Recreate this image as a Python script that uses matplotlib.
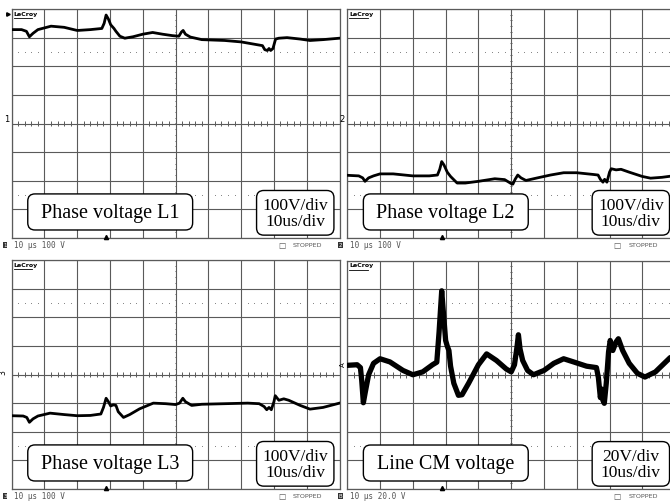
import numpy as np
import matplotlib.pyplot as plt
from matplotlib.patches import FancyBboxPatch

# Figur in Pixel 670 x 502
W, H = 670, 502

l1_t = [0, 3, 4.5, 5.4, 6.5, 8, 12, 16, 20, 24, 27.5, 28.2, 28.8, 29.5, 30.2, 31.2,
        31.8, 33, 34.5, 37, 40, 43, 46, 49, 51, 51.8, 52.3, 53, 54.5, 58, 65, 70,
        75, 76.5, 77.2, 78, 78.5, 79, 79.7, 80.5, 81.5, 84, 88, 91, 95, 100]
l1_v = [328, 328, 322, 303, 315, 328, 340, 336, 325, 328, 332, 350, 379, 365, 345, 332,
        322, 305, 298, 303, 312, 318, 312, 307, 305, 320, 325, 312, 302, 293, 290, 285,
        275, 272, 258, 255, 262, 255, 262, 295, 298, 300, 295, 290, 293, 298]

l2_t = [0, 3.5, 4.7, 5.4, 6.5, 8, 10, 14, 20, 25, 27.5, 28.2, 28.8, 29.5, 30.5, 31.5,
        33.5, 36, 40, 45, 48, 50, 50.5, 51.2, 52, 53, 54.5, 58, 62, 66, 70, 75,
        76.5, 77.2, 78, 78.5, 79.2, 80, 80.5, 82, 83.5, 86, 90, 92.5, 96, 100]
l2_v = [-181, -183, -190, -202, -190, -183, -176, -176, -183, -183, -180, -160, -133, -145, -170, -185,
        -208, -208, -202, -193, -196, -210, -212, -195, -180, -190, -199, -190, -180, -172, -172, -178,
        -180, -195, -205, -195, -205, -170, -158, -162, -160, -170, -185, -191, -188, -182]

l3_t = [0, 3.5, 4.6, 5.4, 6.5, 8, 11.7, 16, 20, 24, 27.2, 28, 28.8, 29.5, 30.2, 31,
        31.8, 32.5, 34.1, 36, 39, 43.2, 47, 50, 51.2, 52.2, 53, 54.9, 58, 65, 72, 75.5,
        77, 77.8, 78.5, 79.2, 80, 80.4, 81.5, 83, 84.5, 88, 91, 95, 100]
l3_v = [-144, -145, -150, -167, -155, -145, -135, -140, -144, -143, -138, -115, -83, -95, -110, -106,
        -108, -130, -150, -140, -120, -100, -102, -105, -100, -83, -95, -108, -104, -102, -100, -102,
        -112, -123, -115, -123, -95, -74, -90, -85, -90, -108, -121, -115, -100]

cm_t = [0, 3, 4, 4.4, 4.9, 5.5, 6.5, 8, 10, 13, 17, 20, 23, 26, 27.3, 28,
        28.8, 29.3, 30, 30.5, 31, 31.5, 32.5, 33.9, 35, 37, 40, 42.5, 45.5, 48.5, 50, 51,
        51.8, 52.2, 52.7, 53.5, 55, 56.8, 60, 63, 66, 69, 73, 76, 76.6, 77.2, 77.6, 78,
        78.4, 79, 79.7, 80.2, 81, 82, 82.7, 84, 86, 88.5, 90.8, 94, 98.5, 100]
cm_v = [6.6, 7, 5, -4, -19.6, -12, 0, 8, 11.2, 9, 3, 0, 2, 7, 8.8, 30,
        58.8, 44, 24, 20, 17, 6, -6, -14.4, -14, -6, 7, 14.6, 10, 4, 2, 7,
        20, 28, 18, 10, 3, 0, 3, 8, 11.2, 9, 6, 5, -2, -16, -10, -18,
        -20, -6, 16, 24, 17, 23, 25.2, 17, 8, 1, -1.6, 2, 12, 13]

panels = [
    dict(t=l1_t, v=l1_v, vdiv=100, lw=2.0, ch="1", name="Phase voltage L1",
         scale="100V/div\n10us/div", foot="10 \u03bcs 100 V", px=(11.7, 10, 239)),
    dict(t=l2_t, v=l2_v, vdiv=100, lw=2.0, ch="2", name="Phase voltage L2",
         scale="100V/div\n10us/div", foot="10 \u03bcs 100 V", px=(347.3, 10, 239)),
    dict(t=l3_t, v=l3_v, vdiv=100, lw=2.0, ch="3", name="Phase voltage L3",
         scale="100V/div\n10us/div", foot="10 \u03bcs 100 V", px=(11.7, 261, 490)),
    dict(t=cm_t, v=cm_v, vdiv=20, lw=3.8, ch="A", name="Line CM voltage",
         scale="20V/div\n10us/div", foot="10 \u03bcs 20.0 V", px=(347.3, 261.5, 490)),
]

tdiv = 10
grid_col = "#5a5a5a"
serif = "Liberation Serif"
mono = "DejaVu Sans Mono"

fig = plt.figure(figsize=(W / 100, H / 100), dpi=100)

for k, p in enumerate(panels):
    left, top, bot = p["px"]
    ax = fig.add_axes([left / W, 1 - bot / H, 327.8 / W, (bot - top) / H])
    vd = p["vdiv"]
    ax.set_xlim(0, 10 * tdiv)
    ax.set_ylim(-4 * vd, 4 * vd)
    ax.set_xticks(np.arange(0, 10 * tdiv + 1, tdiv))
    ax.set_yticks(np.arange(-4 * vd, 4 * vd + 1, vd))
    ax.tick_params(length=0, labelbottom=False, labelleft=False)
    ax.grid(True, color=grid_col, lw=0.8)
    for s in ax.spines.values():
        s.set_color(grid_col)
        s.set_linewidth(0.9)

    # mittellinien mit feinen strichen
    xs = np.arange(0.2, 10, 0.2) * tdiv
    ax.vlines(xs, -0.1 * vd, 0.1 * vd, color=grid_col, lw=0.7)
    ys = np.arange(-3.8, 4, 0.2) * vd
    ax.hlines(ys, 5 * tdiv - 0.25, 5 * tdiv + 0.25, color=grid_col, lw=0.7)

    # gepunktete linien bei +-2.5 div
    xd = np.array([x for x in np.arange(0.2, 10, 0.2) if abs(x - round(x)) > 0.05]) * tdiv
    for yy in (2.5, -2.5):
        ax.plot(xd, np.full(len(xd), yy * vd), ls="none", marker="s", ms=0.7,
                color="#888888", mew=0)

    # messkurve
    ax.plot(p["t"], p["v"], color="black", lw=p["lw"], solid_joinstyle="round", zorder=3)

    # textboxen
    ax.add_patch(FancyBboxPatch((0.49 * tdiv, -3.72 * vd), 5.03 * tdiv, 1.26 * vd,
                                boxstyle="round,pad=0,rounding_size=2.2",
                                mutation_aspect=vd / tdiv * 1.15,
                                fc="white", ec="black", lw=1.0, zorder=5))
    ax.text(3.0 * tdiv, -3.1 * vd, p["name"], ha="center", va="center",
            fontsize=14.5, family=serif, zorder=6)
    ax.add_patch(FancyBboxPatch((7.47 * tdiv, -3.9 * vd), 2.36 * tdiv, 1.56 * vd,
                                boxstyle="round,pad=0,rounding_size=2.2",
                                mutation_aspect=vd / tdiv * 1.15,
                                fc="white", ec="black", lw=1.0, zorder=5))
    ax.text(8.65 * tdiv, -3.12 * vd, p["scale"], ha="center", va="center",
            fontsize=12.5, family=serif, linespacing=1.0, zorder=6)

    # logo
    ax.text(0.06 * tdiv, 3.93 * vd, "LeCroy", fontsize=4.5, weight="bold",
            ha="left", va="top", zorder=6)
    ax.plot([0.06 * tdiv, 0.62 * tdiv], [3.68 * vd, 3.68 * vd], color="black", lw=0.6)

    # kanal marker
    if p["ch"] == "3":
        ax.text(-0.12 * tdiv, 0.1 * vd, p["ch"], rotation=90, fontsize=5.5,
                ha="right", va="center", clip_on=False)
    elif p["ch"] == "A":
        ax.text(-0.05 * tdiv, 0.4 * vd, p["ch"], rotation=90, fontsize=5,
                ha="right", va="center", clip_on=False)
    else:
        ax.text(-0.08 * tdiv, 0.02 * vd, p["ch"], fontsize=6, ha="right",
                va="bottom", clip_on=False)
    if k == 0:
        ax.plot([-0.12 * tdiv], [3.82 * vd], marker=">", ms=2.5, color="black",
                clip_on=False)

    # triggermarke unten
    ax.plot([2.88 * tdiv], [-3.97 * vd], marker="^", ms=3, color="black",
            clip_on=False, zorder=6)

    # fusszeile
    ax.text(-0.2 * tdiv, -4.24 * vd, p["ch"] if p["ch"] != "A" else "B", fontsize=4,
            color="white", ha="center", va="center", clip_on=False,
            bbox=dict(boxstyle="square,pad=0.1", fc="#333333", ec="none"))
    ax.text(0.08 * tdiv, -4.24 * vd, p["foot"], fontsize=5.5, family=mono,
            color="#555555", ha="left", va="center", clip_on=False)
    ax.text(8.12 * tdiv, -4.24 * vd, "\u25a1", fontsize=5.5, family="DejaVu Sans",
            color="#555555", ha="left", va="center", clip_on=False)
    ax.text(8.58 * tdiv, -4.24 * vd, "STOPPED", fontsize=4.6, family="DejaVu Sans",
            color="#555555", ha="left", va="center", clip_on=False)

fig.savefig("out.png", dpi=100)
